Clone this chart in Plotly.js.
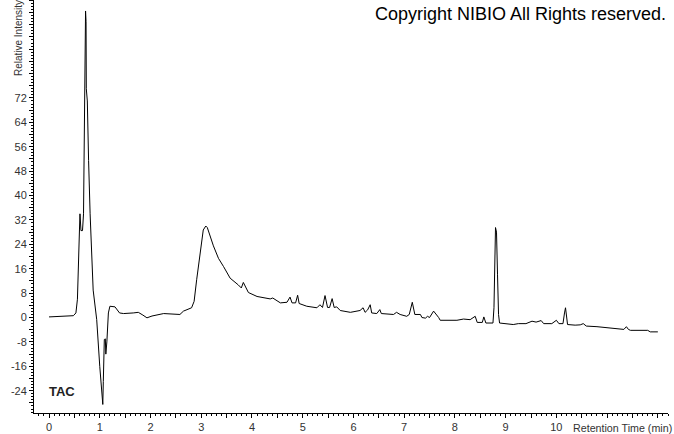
<!DOCTYPE html>
<html>
<head>
<meta charset="utf-8">
<script src="https://cdn.plot.ly/plotly-3.0.1.min.js"></script>
<style>html,body{margin:0;padding:0;background:#fff}#chart{width:674px;height:434px}</style>
</head>
<body>
<div id="chart"></div>
<script>
// Retention time (min)
const timeMin = [
0.00,0.30,0.48,0.53,0.56,0.60,0.61,0.63,0.66,0.68,0.70,0.72,0.73,0.735,0.755,0.78,0.81,0.87,0.94,
1.00,1.04,1.06,1.07,1.09,1.11,1.12,1.14,1.17,1.20,1.30,1.39,1.47,1.66,1.76,1.85,1.93,2.03,2.26,
2.58,2.65,2.81,2.86,2.91,2.98,3.04,3.09,3.12,3.24,3.34,3.44,3.57,3.73,3.79,3.83,3.93,4.10,4.36,
4.41,4.56,4.69,4.75,4.79,4.86,4.90,4.93,5.08,5.28,5.34,5.39,5.44,5.49,5.53,5.58,5.62,5.67,5.74,
5.94,6.13,6.19,6.23,6.28,6.33,6.36,6.46,6.52,6.55,6.79,6.85,6.92,7.05,7.10,7.16,7.21,7.32,7.35,
7.42,7.46,7.50,7.58,7.68,7.71,8.04,8.17,8.30,8.37,8.40,8.44,8.54,8.57,8.61,8.75,8.77,8.80,8.82,
8.84,8.86,8.88,9.09,9.15,9.25,9.40,9.52,9.60,9.70,9.75,9.91,10.00,10.05,10.13,10.16,10.18,10.20,
10.22,10.37,10.47,10.53,10.59,10.80,11.07,11.33,11.38,11.42,11.46,11.80,11.85,12.00];
// Relative intensity
const intensity = [
0.2,0.3,0.6,1.5,6,28.7,34,28.5,28.5,34,67,100.5,97,75,71,51.5,34,9,-0.7,
-16,-26.7,-28.5,-21,-7.2,-7,-12,-8,1.5,3.7,3.5,1.5,1.3,1.5,1.7,0.8,-0.1,0.5,1.3,
1.0,2.1,3.2,5.3,12.4,22,28.7,30,29.5,23.5,19.4,16.7,12.9,10.7,9.7,11.5,8.2,6.9,6.1,
6.4,4.8,5,6.7,4.8,4.8,7.3,4.6,3.7,3.2,4.2,3.3,7.2,3.3,3.3,6.2,3.3,3.5,2.3,
1.7,2.3,3.2,1.7,2.5,4.2,1.5,1.3,2.6,1.3,1.0,1.7,1.0,0.4,1.0,5,1.0,1.0,0,
-0.2,0.4,0,2.1,0,-0.9,-0.9,-0.5,-0.7,-0.1,0.4,-1.6,-1.6,0.2,-1.8,-1.8,3.2,29.5,28,
14,1,-1.8,-2,-2.3,-2,-2,-1.2,-1.5,-1.0,-2,-2,-0.9,-2,-2,1.5,3.2,0.5,
-2.3,-2.5,-2.4,-2.0,-2.8,-3,-3.4,-3.9,-3.0,-3.9,-4.2,-4.2,-4.7,-4.7];

const xTickVals = [];
const xTickText = [];
for (let i = 0; i <= 24; i++) { const v = i / 2; xTickVals.push(v); xTickText.push((i % 2 === 0 && v <= 10) ? String(v) : ''); }
const yTickVals = [];
const yTickText = [];
for (let v = -28; v <= 104; v += 4) { yTickVals.push(v); yTickText.push((v % 8 === 0 && v >= -24 && v <= 72) ? String(v) : ''); }

const trace = {
  x: timeMin, y: intensity, type: 'scatter', mode: 'lines',
  line: {color: '#000', width: 1}, hoverinfo: 'skip'
};

const layout = {
  width: 674, height: 434,
  margin: {l: 34, r: 6, t: 0, b: 21, pad: 0},
  paper_bgcolor: '#fff', plot_bgcolor: '#fff',
  showlegend: false,
  font: {family: 'Liberation Sans, Arial, sans-serif', size: 11, color: '#333'},
  xaxis: {
    range: [-0.296, 12.2], showgrid: false, zeroline: false,
    showline: true, linecolor: '#000', linewidth: 1,
    ticks: 'outside', ticklen: 4, tickcolor: '#000', tickwidth: 1,
    tickmode: 'array', tickvals: xTickVals, ticktext: xTickText,
    tickfont: {size: 11, color: '#333'},
    minor: {dtick: 0.1, tick0: 0, ticks: 'outside', ticklen: 2, tickcolor: '#000', showgrid: false}
  },
  yaxis: {
    range: [-31.3, 104.1], showgrid: false, zeroline: false,
    showline: true, linecolor: '#000', linewidth: 1,
    ticks: 'outside', ticklen: 4, tickcolor: '#000', tickwidth: 1,
    tickmode: 'array', tickvals: yTickVals, ticktext: yTickText,
    tickfont: {size: 11, color: '#333'},
    minor: {dtick: 1, tick0: 0, ticks: 'outside', ticklen: 2, tickcolor: '#000', showgrid: false}
  },
  annotations: [
    {text: 'Copyright NIBIO All Rights reserved.', xref: 'paper', yref: 'paper',
     x: 1, y: 1, xanchor: 'right', yanchor: 'top', xshift: 0, yshift: -2, showarrow: false,
     font: {family: 'Liberation Sans, Arial, sans-serif', size: 18, color: '#000'}},
    {text: 'TAC', xref: 'paper', yref: 'paper', x: 0.0205, y: 0.053, xanchor: 'left', yanchor: 'middle',
     showarrow: false, font: {family: 'Liberation Sans, Arial, sans-serif', size: 13, color: '#222', weight: 'bold'}},
    {text: 'Retention Time (min)', xref: 'paper', yref: 'paper', x: 1.0095, y: 0, yshift: -15,
     xanchor: 'right', yanchor: 'middle', showarrow: false,
     font: {family: 'Liberation Sans, Arial, sans-serif', size: 10.7, color: '#333'}},
    {text: 'Relative Intensity', xref: 'paper', yref: 'paper', x: -0.0252, y: 0.811,
     xanchor: 'center', yanchor: 'bottom', textangle: -90, showarrow: false,
     font: {family: 'Liberation Sans, Arial, sans-serif', size: 10, color: '#333'}}
  ]
};

Plotly.newPlot('chart', [trace], layout, {staticPlot: true, displayModeBar: false});
</script>
</body>
</html>
